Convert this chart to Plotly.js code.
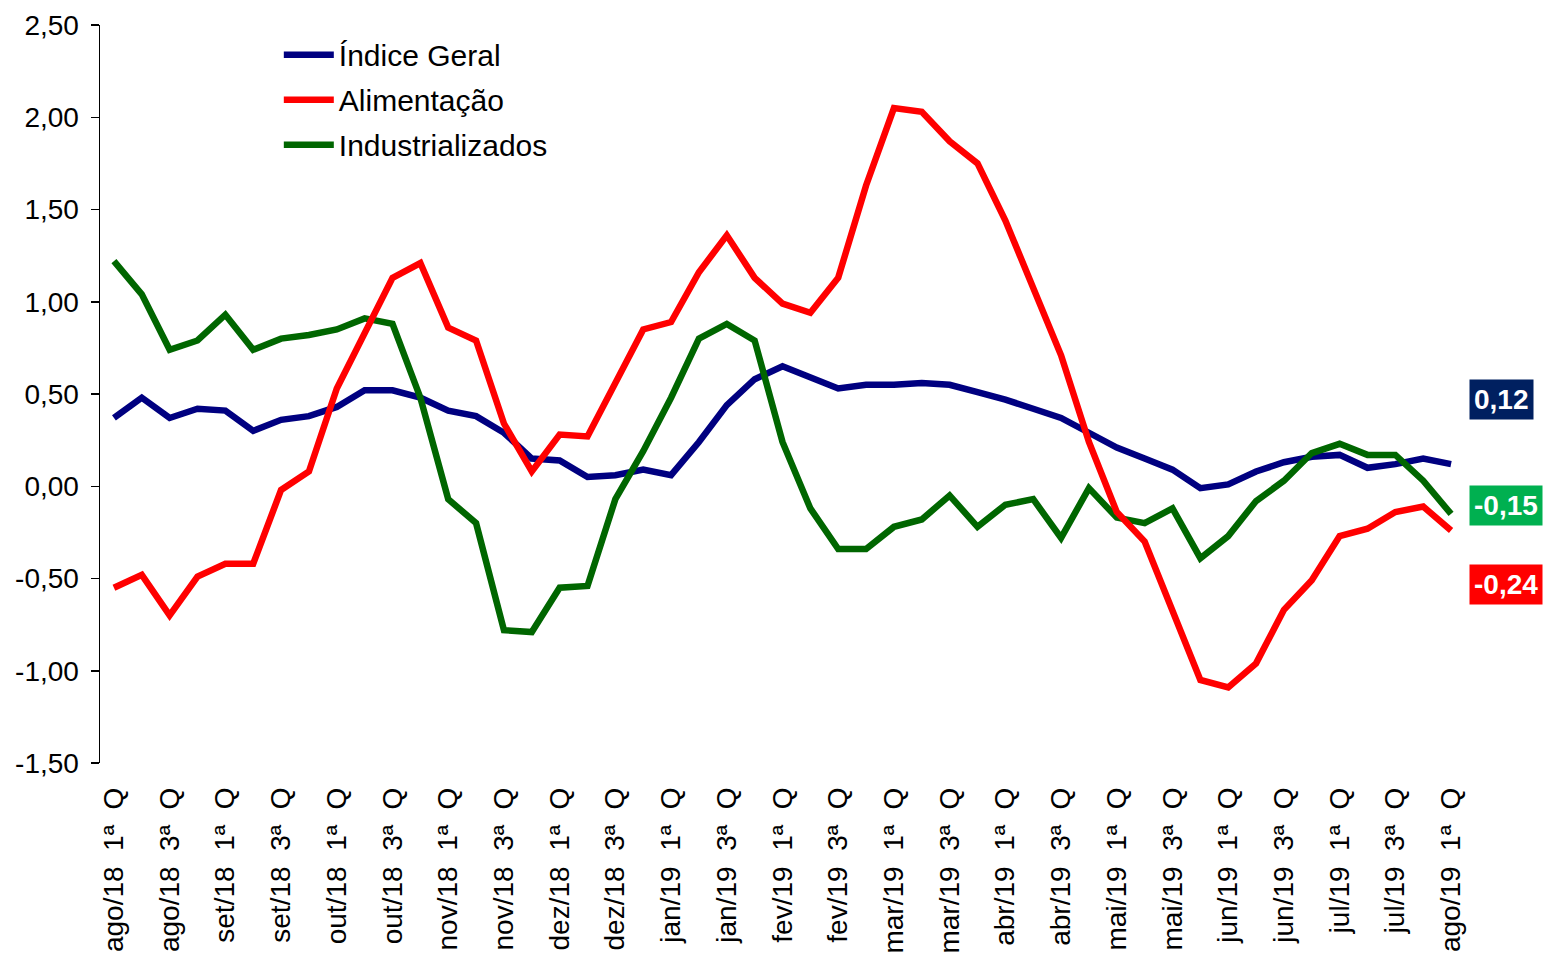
<!DOCTYPE html>
<html>
<head>
<meta charset="utf-8">
<script src="https://cdn.plot.ly/plotly-3.0.1.min.js"></script>
<style>
html,body{margin:0;padding:0;background:#ffffff;}
#chart{width:1546px;height:957px;}
</style>
</head>
<body>
<div id="chart"></div>
<script>
// ---- data ----
const categories = [
  'ago/18 1ª Q','ago/18 2ª Q','ago/18 3ª Q','ago/18 4ª Q',
  'set/18 1ª Q','set/18 2ª Q','set/18 3ª Q','set/18 4ª Q',
  'out/18 1ª Q','out/18 2ª Q','out/18 3ª Q','out/18 4ª Q',
  'nov/18 1ª Q','nov/18 2ª Q','nov/18 3ª Q','nov/18 4ª Q',
  'dez/18 1ª Q','dez/18 2ª Q','dez/18 3ª Q','dez/18 4ª Q',
  'jan/19 1ª Q','jan/19 2ª Q','jan/19 3ª Q','jan/19 4ª Q',
  'fev/19 1ª Q','fev/19 2ª Q','fev/19 3ª Q','fev/19 4ª Q',
  'mar/19 1ª Q','mar/19 2ª Q','mar/19 3ª Q','mar/19 4ª Q',
  'abr/19 1ª Q','abr/19 2ª Q','abr/19 3ª Q','abr/19 4ª Q',
  'mai/19 1ª Q','mai/19 2ª Q','mai/19 3ª Q','mai/19 4ª Q',
  'jun/19 1ª Q','jun/19 2ª Q','jun/19 3ª Q','jun/19 4ª Q',
  'jul/19 1ª Q','jul/19 2ª Q','jul/19 3ª Q','jul/19 4ª Q',
  'ago/19 1ª Q'
];

const indiceGeral = [
  0.37, 0.48, 0.37, 0.42, 0.41, 0.30, 0.36, 0.38, 0.43, 0.52,
  0.52, 0.48, 0.41, 0.38, 0.29, 0.15, 0.14, 0.05, 0.06, 0.09,
  0.06, 0.24, 0.44, 0.58, 0.65, 0.59, 0.53, 0.55, 0.55, 0.56,
  0.55, 0.51, 0.47, 0.42, 0.37, 0.29, 0.21, 0.15, 0.09, -0.01,
  0.01, 0.08, 0.13, 0.16, 0.17, 0.10, 0.12, 0.15, 0.12
];

const alimentacao = [
  -0.55, -0.48, -0.70, -0.49, -0.42, -0.42, -0.02, 0.08, 0.53, 0.83,
  1.13, 1.21, 0.86, 0.79, 0.34, 0.08, 0.28, 0.27, 0.56, 0.85,
  0.89, 1.16, 1.36, 1.13, 0.99, 0.94, 1.13, 1.63, 2.05, 2.03,
  1.87, 1.75, 1.44, 1.07, 0.71, 0.24, -0.14, -0.30, -0.68, -1.05,
  -1.09, -0.96, -0.67, -0.51, -0.27, -0.23, -0.14, -0.11, -0.24
];

const industrializados = [
  1.22, 1.04, 0.74, 0.79, 0.93, 0.74, 0.80, 0.82, 0.85, 0.91,
  0.88, 0.48, -0.07, -0.20, -0.78, -0.79, -0.55, -0.54, -0.07, 0.19,
  0.48, 0.80, 0.88, 0.79, 0.24, -0.12, -0.34, -0.34, -0.22, -0.18,
  -0.05, -0.22, -0.10, -0.07, -0.28, -0.01, -0.17, -0.20, -0.12, -0.39,
  -0.27, -0.08, 0.03, 0.18, 0.23, 0.17, 0.17, 0.03, -0.15
];

const seriesNames = ['Índice Geral', 'Alimentação', 'Industrializados'];
const yTickValues = [-1.5, -1.0, -0.5, 0.0, 0.5, 1.0, 1.5, 2.0, 2.5];

// ---- styling ----
const COLORS = {ig: '#000080', al: '#ff0000', ind: '#006600'};
const BOX = {ig: '#002060', al: '#ff0000', ind: '#00b050'};
const REG = 'Liberation Sans, Arial, sans-serif';

const fmt = v => v.toFixed(2).replace('.', ',');
const labelCats = categories.filter((c, i) => i % 2 === 0);
const labelText = labelCats.map(c => c.replace(/ /g, '\u00a0\u00a0'));
const yMin = yTickValues[0], yMax = yTickValues[yTickValues.length - 1];
const n = categories.length;

const traces = [
  {x: categories, y: indiceGeral, name: seriesNames[0], type: 'scatter', mode: 'lines',
   line: {color: COLORS.ig, width: 6.5}, legendgroup: 'a', legendrank: 1},
  {x: categories, y: industrializados, name: seriesNames[2], type: 'scatter', mode: 'lines',
   line: {color: COLORS.ind, width: 6.5}, legendgroup: 'c', legendrank: 3},
  {x: categories, y: alimentacao, name: seriesNames[1], type: 'scatter', mode: 'lines',
   line: {color: COLORS.al, width: 6.5}, legendgroup: 'b', legendrank: 2}
];

const last = a => a[a.length - 1];

const layout = {
  width: 1546, height: 957,
  margin: {l: 100, r: 81, t: 25, b: 194, pad: 0},
  paper_bgcolor: '#ffffff', plot_bgcolor: '#ffffff',
  separators: ',.',
  showlegend: true,
  legend: {
    x: 0.131, y: 0.995, xanchor: 'left', yanchor: 'top',
    bgcolor: 'rgba(0,0,0,0)', borderwidth: 0,
    font: {family: REG, size: 30, color: '#000000'},
    traceorder: 'grouped', tracegroupgap: 3, itemwidth: 50
  },
  xaxis: {
    type: 'category', categoryorder: 'array', categoryarray: categories,
    range: [-0.5, n - 0.5],
    showline: false, showgrid: false, zeroline: false, ticks: '',
    tickmode: 'array', tickvals: labelCats, ticktext: labelText,
    tickangle: -90, ticklabelstandoff: 18,
    tickfont: {family: REG, size: 28, color: '#000000'}
  },
  xaxis2: {
    overlaying: 'x', anchor: 'free', position: (0 - yMin) / (yMax - yMin),
    range: [-0.5, n - 0.5], type: 'linear',
    showline: true, linecolor: '#c0c0c0', linewidth: 2,
    ticks: 'outside', ticklen: 9, tickwidth: 2, tickcolor: '#c0c0c0',
    tickmode: 'linear', tick0: -0.5, dtick: 1,
    showticklabels: false, showgrid: false, zeroline: false,
    layer: 'below traces', fixedrange: true
  },
  yaxis: {
    range: [yMin, yMax],
    tickmode: 'array', tickvals: yTickValues, ticktext: yTickValues.map(fmt),
    showline: true, linecolor: '#000000', linewidth: 1.5,
    ticks: 'outside', ticklen: 8, tickwidth: 1.5, tickcolor: '#000000',
    showgrid: false, zeroline: false,
    tickfont: {family: REG, size: 28, color: '#000000'},
    ticklabelstandoff: 6
  },
  annotations: [
    {xref: 'paper', yref: 'y', x: 1, y: 0.47, xanchor: 'left', yanchor: 'middle', xshift: 4,
     text: '<b>' + fmt(last(indiceGeral)) + '</b>', showarrow: false, bgcolor: BOX.ig, borderpad: 4,
     font: {family: REG, size: 28, color: '#ffffff'}},
    {xref: 'paper', yref: 'y', x: 1, y: -0.105, xanchor: 'left', yanchor: 'middle', xshift: 4,
     text: '<b>' + fmt(last(industrializados)) + '</b>', showarrow: false, bgcolor: BOX.ind, borderpad: 4,
     font: {family: REG, size: 28, color: '#ffffff'}},
    {xref: 'paper', yref: 'y', x: 1, y: -0.53, xanchor: 'left', yanchor: 'middle', xshift: 4,
     text: '<b>' + fmt(last(alimentacao)) + '</b>', showarrow: false, bgcolor: BOX.al, borderpad: 4,
     font: {family: REG, size: 28, color: '#ffffff'}}
  ]
};

Plotly.newPlot('chart', traces, layout, {displayModeBar: false, staticPlot: true});
</script>
</body>
</html>
